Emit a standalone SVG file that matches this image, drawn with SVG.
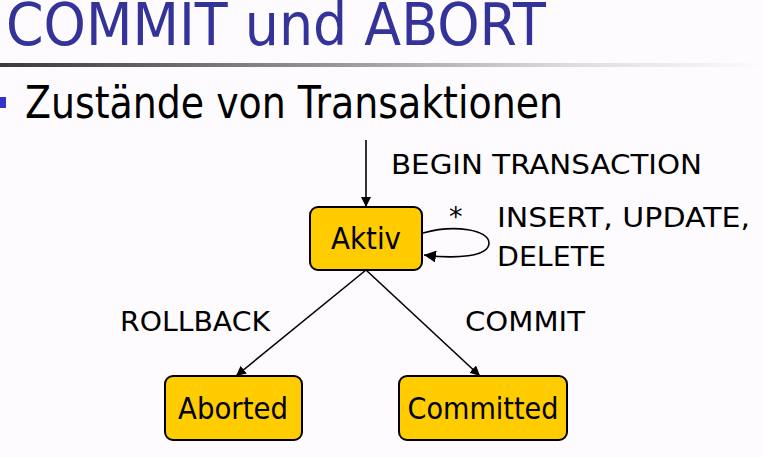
<svg xmlns="http://www.w3.org/2000/svg" width="763" height="457" viewBox="0 0 763 457">
  <defs>
    <linearGradient id="rule" x1="0" y1="0" x2="1" y2="0">
      <stop offset="0" stop-color="#3a3a3a"/>
      <stop offset="0.45" stop-color="#9a9a9a"/>
      <stop offset="0.75" stop-color="#dddddd"/>
      <stop offset="1" stop-color="#fdfbfd"/>
    </linearGradient>
    <marker id="arrow" viewBox="0 0 10 10" refX="10" refY="5" markerWidth="10" markerHeight="10" markerUnits="userSpaceOnUse" orient="auto">
      <path d="M0,0 L10,5 L0,10 z" fill="#000"/>
    </marker>
    <marker id="arrowBig" viewBox="0 0 10 10" refX="10" refY="5" markerWidth="12" markerHeight="12" markerUnits="userSpaceOnUse" orient="auto">
      <path d="M0,0 L10,5 L0,10 z" fill="#000"/>
    </marker>
  </defs>
  <style>
    text { font-family: "DejaVu Sans", Verdana, sans-serif; fill: #000; }
    .title { fill: #333399; font-size: 58px; }
    .sub { font-size: 44px; }
    .lbl { font-size: 27px; }
    .node rect { fill: #ffcc00; stroke: #000; stroke-width: 2; }
    .node text { font-size: 30px; text-anchor: middle; }
    .edge { stroke: #000; stroke-width: 1.6; fill: none; }
  </style>

  <rect width="763" height="457" fill="#fdfbfd"/>

  <!-- heading -->
  <text class="title" x="6" y="45" textLength="540" lengthAdjust="spacingAndGlyphs">COMMIT und ABORT</text>
  <rect x="0" y="63" width="763" height="4" fill="url(#rule)"/>

  <!-- bullet line -->
  <rect x="0" y="97" width="6" height="11" fill="#3333cc"/>
  <text class="sub" x="25" y="118" textLength="538" lengthAdjust="spacingAndGlyphs">Zustände von Transaktionen</text>

  <!-- connectors -->
  <g id="connectors">
    <line class="edge" x1="366" y1="140" x2="366" y2="207" marker-end="url(#arrow)"/>
    <path class="edge" stroke-width="3" d="M423,233 C455,224 489,230 489,243 C489,257 455,259 424,255" marker-end="url(#arrowBig)"/>
    <line class="edge" x1="366" y1="270" x2="236" y2="376" marker-end="url(#arrow)"/>
    <line class="edge" x1="366" y1="270" x2="480" y2="376" marker-end="url(#arrow)"/>
  </g>

  <!-- edge labels -->
  <text class="lbl" x="391" y="174" textLength="311" lengthAdjust="spacingAndGlyphs">BEGIN TRANSACTION</text>
  <text class="lbl" x="449" y="226">*</text>
  <text class="lbl" x="497" y="227" textLength="253" lengthAdjust="spacingAndGlyphs">INSERT, UPDATE,</text>
  <text class="lbl" x="497" y="266" textLength="109" lengthAdjust="spacingAndGlyphs">DELETE</text>
  <text class="lbl" x="120" y="331" textLength="150" lengthAdjust="spacingAndGlyphs">ROLLBACK</text>
  <text class="lbl" x="465" y="331" textLength="120" lengthAdjust="spacingAndGlyphs">COMMIT</text>

  <!-- states -->
  <g id="aktiv" class="node">
    <rect x="310" y="207" width="112" height="63" rx="8"/>
    <text x="366" y="249" textLength="70" lengthAdjust="spacingAndGlyphs">Aktiv</text>
  </g>
  <g id="aborted" class="node">
    <rect x="165" y="376" width="137" height="64" rx="8"/>
    <text x="233" y="419" textLength="110" lengthAdjust="spacingAndGlyphs">Aborted</text>
  </g>
  <g id="committed" class="node">
    <rect x="399" y="376" width="168" height="64" rx="8"/>
    <text x="483" y="419" textLength="151" lengthAdjust="spacingAndGlyphs">Committed</text>
  </g>
</svg>
